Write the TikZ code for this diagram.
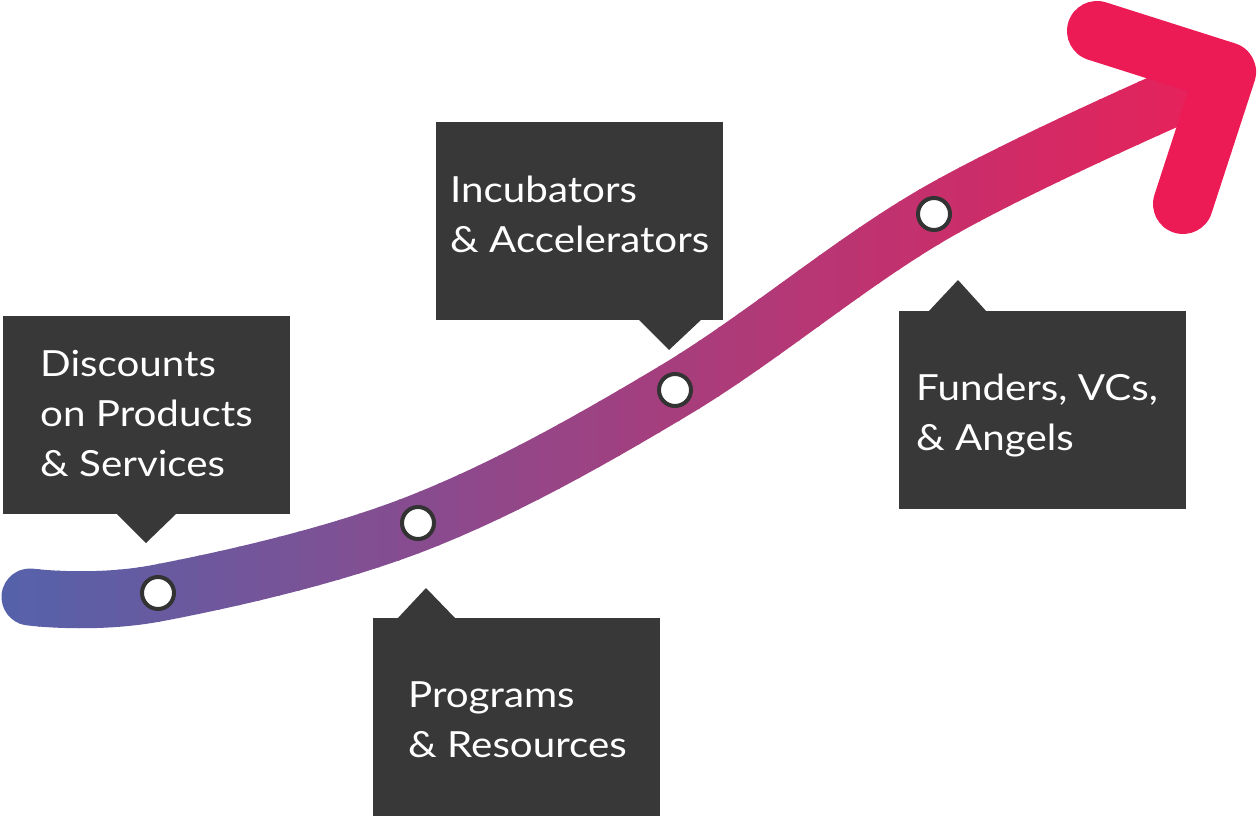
\documentclass[tikz,border=0pt]{standalone}
\usepackage{fontspec}
\setmainfont[FakeStretch=1.12]{Lato}
\definecolor{bandL}{HTML}{5463AB}
\definecolor{bandR}{HTML}{E6215A}
\definecolor{arrowpink}{HTML}{EC1A55}
\definecolor{boxgray}{HTML}{383838}
\definecolor{ringgray}{HTML}{333333}
\tikzset{
  callout/.style={fill=boxgray, inner sep=0pt,
    minimum width=287pt, minimum height=198pt, anchor=north west},
  label text/.style={text=white, align=left, inner sep=0pt, anchor=base west,
    font=\fontsize{36}{50}\selectfont},
  band/.style={line width=57pt, line cap=round},
  stop/.style={circle, draw=ringgray, fill=white, line width=4pt, minimum size=32pt, inner sep=0pt},
  pointer/.style={fill=boxgray}
}
\def\bandpath{plot[smooth, tension=0.6] coordinates {(30,597) (158,593) (418,523) (675,390) (934,214) (1195,88)}}
\begin{document}
\begin{tikzpicture}[x=1pt, y=-1pt]
\useasboundingbox (0,0) rectangle (1258,818);
% gradient band
\foreach \i in {0,...,64} {
  \pgfmathsetmacro\xa{\i*20-2}
  \pgfmathsetmacro\xb{\i*20+20}
  \pgfmathsetmacro\pc{min(100,max(0,(\i*20+10)/12))}
  \begin{scope}
    \clip (\xa,-10) rectangle (\xb,830);
    \draw[band, draw=bandR!\pc!bandL] \bandpath;
  \end{scope}
}
% arrow head
\coordinate (h1) at (1097,31);
\coordinate (h2) at (1226,72);
\coordinate (h3) at (1183,204);
\draw[line width=60pt, line cap=round, line join=round, draw=arrowpink] (h1) -- (h2) -- (h3);
% stops
\node[stop] (c1) at (158,593) {};
\node[stop] (c2) at (418,523) {};
\node[stop] (c3) at (675,390) {};
\node[stop] (c4) at (934,214) {};
% callouts
\node[callout] (b1) at (3,316) {};
\fill[pointer] (117,514) -- (146,543) -- (176,514) -- cycle;
\node[label text] (t1) at (40,476) {Discounts\\on Products\\\& Services};
\node[callout] (b2) at (373,618) {};
\fill[pointer] (397,619) -- (426,588) -- (456,619) -- cycle;
\node[label text] (t2) at (408,757) {Programs\\\& Resources};
\node[callout] (b3) at (436,122) {};
\fill[pointer] (638,319) -- (669,350) -- (702,319) -- cycle;
\node[label text] (t3) at (450,253) {Incubators\\\& Accelerators};
\node[callout] (b4) at (899,311) {};
\fill[pointer] (928,312) -- (958,280) -- (987,312) -- cycle;
\node[label text] (t4) at (916,450) {Funders, VCs,\\\& Angels};
\end{tikzpicture}
\end{document}
